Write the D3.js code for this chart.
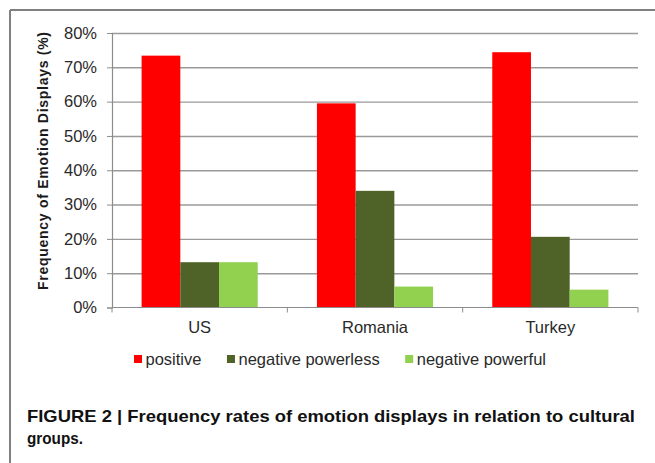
<!DOCTYPE html>
<html>
<head>
<meta charset="utf-8">
<script src="https://cdn.jsdelivr.net/npm/d3@7"></script>
<style>
  body { margin: 0; background: #fff; }
  svg { display: block; font-family: "Liberation Sans", Arial, sans-serif; }
</style>
</head>
<body>
<svg id="chart" width="655" height="463"></svg>
<script>
const categories = ['US', 'Romania', 'Turkey'];
const seriesNames = ['positive', 'negative powerless', 'negative powerful'];
const seriesColors = ['#ff0000', '#4f6228', '#92d050'];
// frequency (fraction) per category, one array per series
const positive = [0.734, 0.595, 0.744];
const negPowerless = [0.132, 0.340, 0.206];
const negPowerful = [0.132, 0.061, 0.052];
const yTicks = [0, 0.1, 0.2, 0.3, 0.4, 0.5, 0.6, 0.7, 0.8];

const values = [positive, negPowerless, negPowerful];
const rows = categories.map((c, i) => ({
  cat: c,
  vals: seriesNames.map((s, j) => ({ key: s, value: values[j][i], color: seriesColors[j] }))
}));

const svg = d3.select('#chart');
const area = { left: 112, right: 638, top: 33, bottom: 307.5 };

// frame
svg.append('line').attr('x1', 10).attr('x2', 655).attr('y1', 10).attr('y2', 10)
  .attr('stroke', '#808080').attr('stroke-width', 2);
svg.append('line').attr('x1', 10).attr('x2', 10).attr('y1', 10).attr('y2', 463)
  .attr('stroke', '#808080').attr('stroke-width', 2);

const y = d3.scaleLinear().domain([0, 0.8]).range([area.bottom, area.top]);
const x0 = d3.scaleBand().domain(categories).range([area.left, area.right]);
const groupPad = 29.6;
const x1 = d3.scaleBand().domain(seriesNames).range([groupPad, x0.bandwidth() - groupPad]);

// gridlines
svg.append('g')
  .attr('transform', `translate(${area.left},0)`)
  .call(d3.axisRight(y).tickValues(yTicks.slice(1)).tickSize(area.right - area.left).tickFormat(''))
  .call(g => g.select('.domain').remove())
  .call(g => g.selectAll('line').attr('stroke', '#9a9a9a').attr('stroke-width', 1.4));

// y axis
svg.append('g')
  .attr('transform', `translate(${area.left},0)`)
  .call(d3.axisLeft(y).tickValues(yTicks).tickFormat(d3.format('.0%')).tickSize(5).tickPadding(10))
  .call(g => g.select('.domain').attr('stroke', '#8c8c8c').attr('stroke-width', 1.2))
  .call(g => g.selectAll('line').attr('stroke', '#8c8c8c'))
  .call(g => g.selectAll('text').attr('fill', '#2a2a2a').style('font-size', '16.5px')
    .style('font-family', '"Liberation Sans", Arial, sans-serif'));

// bars
const groups = svg.append('g').selectAll('g')
  .data(rows).join('g')
  .attr('transform', d => `translate(${x0(d.cat)},0)`);
groups.selectAll('rect')
  .data(d => d.vals).join('rect')
  .attr('x', d => x1(d.key))
  .attr('width', x1.bandwidth())
  .attr('y', d => y(d.value))
  .attr('height', d => y(0) - y(d.value))
  .attr('fill', d => d.color);

// x axis: baseline with ticks at category boundaries
const bounds = categories.map(c => x0(c)).concat([area.right]);
const xAxis = svg.append('g');
xAxis.append('line')
  .attr('x1', area.left).attr('x2', area.right)
  .attr('y1', y(0)).attr('y2', y(0))
  .attr('stroke', '#8c8c8c').attr('stroke-width', 1.2);
xAxis.selectAll('.btick').data(bounds).join('line')
  .attr('class', 'btick')
  .attr('x1', d => d).attr('x2', d => d)
  .attr('y1', y(0)).attr('y2', y(0) + 5)
  .attr('stroke', '#8c8c8c');
xAxis.selectAll('.clabel').data(categories).join('text')
  .attr('class', 'clabel')
  .attr('x', d => x0(d) + x0.bandwidth() / 2)
  .attr('y', 333)
  .attr('text-anchor', 'middle')
  .attr('fill', '#2a2a2a')
  .style('font-size', '16.5px')
  .text(d => d);

// y title
svg.append('text')
  .attr('transform', 'translate(48,161) rotate(-90)')
  .attr('text-anchor', 'middle')
  .attr('textLength', 258)
  .attr('lengthAdjust', 'spacing')
  .style('font-size', '14px')
  .style('font-weight', 'bold')
  .attr('fill', '#1a1a1a')
  .text('Frequency of Emotion Displays (%)');

// legend
const legend = svg.append('g');
let lx = 134;
seriesNames.forEach((s, i) => {
  legend.append('rect')
    .attr('x', lx).attr('y', 355).attr('width', 8).attr('height', 8)
    .attr('fill', seriesColors[i]);
  const t = legend.append('text')
    .attr('x', lx + 11.5).attr('y', 364.5)
    .attr('fill', '#2a2a2a')
    .style('font-size', '16.5px')
    .text(s);
  lx = lx + 11.5 + t.node().getComputedTextLength() + 25.5;
});

// caption
const caption = svg.append('text')
  .attr('fill', '#111')
  .style('font-size', '17px')
  .style('font-weight', 'bold');
caption.append('tspan').attr('x', 27).attr('y', 422)
  .attr('textLength', 608).attr('lengthAdjust', 'spacingAndGlyphs')
  .text('FIGURE 2 | Frequency rates of emotion displays in relation to cultural');
caption.append('tspan').attr('x', 27).attr('y', 443.5)
  .attr('textLength', 56).attr('lengthAdjust', 'spacingAndGlyphs')
  .text('groups.');
</script>
</body>
</html>
